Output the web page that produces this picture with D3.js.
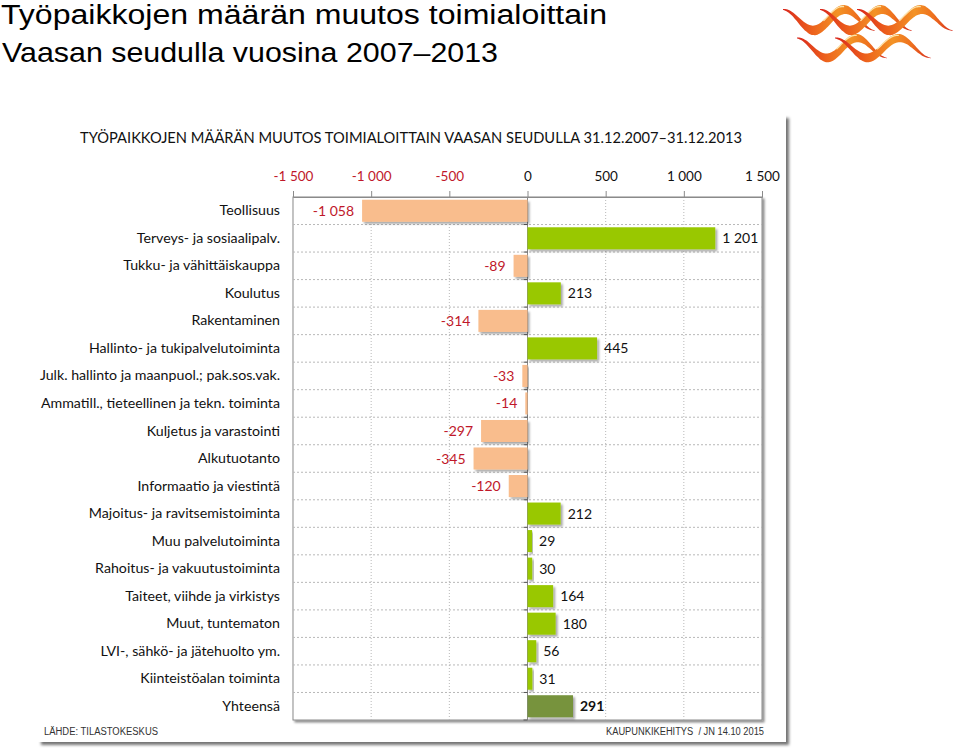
<!DOCTYPE html>
<html><head><meta charset="utf-8">
<script src="https://cdn.jsdelivr.net/npm/d3@7"></script>
<style>
html,body{margin:0;padding:0;background:#fff;}
svg{display:block;}
</style></head>
<body>
<svg id="chart" width="960" height="752"></svg>
<script>
// ---- data ----
const mainTitle = ["Työpaikkojen määrän muutos toimialoittain", "Vaasan seudulla vuosina 2007–2013"];
const innerTitle = "TYÖPAIKKOJEN MÄÄRÄN MUUTOS TOIMIALOITTAIN VAASAN SEUDULLA 31.12.2007–31.12.2013";
const categories = [
  "Teollisuus",
  "Terveys- ja sosiaalipalv.",
  "Tukku- ja vähittäiskauppa",
  "Koulutus",
  "Rakentaminen",
  "Hallinto- ja tukipalvelutoiminta",
  "Julk. hallinto ja maanpuol.; pak.sos.vak.",
  "Ammatill., tieteellinen ja tekn. toiminta",
  "Kuljetus ja varastointi",
  "Alkutuotanto",
  "Informaatio ja viestintä",
  "Majoitus- ja ravitsemistoiminta",
  "Muu palvelutoiminta",
  "Rahoitus- ja vakuutustoiminta",
  "Taiteet, viihde ja virkistys",
  "Muut, tuntematon",
  "LVI-, sähkö- ja jätehuolto ym.",
  "Kiinteistöalan toiminta",
  "Yhteensä"
];
const values = [-1058, 1201, -89, 213, -314, 445, -33, -14, -297, -345, -120, 212, 29, 30, 164, 180, 56, 31, 291];
const totalCategory = "Yhteensä";
const tickValues = [-1500, -1000, -500, 0, 500, 1000, 1500];
const tickLabels = ["-1 500", "-1 000", "-500", "0", "500", "1 000", "1 500"];
const sourceText = "LÄHDE: TILASTOKESKUS";
const creditText = "KAUPUNKIKEHITYS  / JN 14.10 2015";

// ---- styles ----
const C = {
  neg: "#F9BD8D", pos: "#99C800", total: "#77933C",
  negText: "#C0182A", text: "#111", grid: "#b8b8b8", frame: "#8a8a8a"
};
const chartFont = "Lato, 'Open Sans', sans-serif";

const svg = d3.select("#chart");
const defs = svg.append("defs");

function shadow(id, dx, dy, sd, op) {
  const f = defs.append("filter").attr("id", id).attr("x", "-20%").attr("y", "-20%").attr("width", "140%").attr("height", "160%");
  f.append("feDropShadow").attr("dx", dx).attr("dy", dy).attr("stdDeviation", sd)
    .attr("flood-color", "#000").attr("flood-opacity", op);
}
shadow("panelShadow", 3, 3, 1.5, 0.55);
shadow("frameShadow", 2, 2, 1.2, 0.45);
shadow("barShadow", 2, 2, 1.2, 0.35);

// ---- main title ----
svg.append("text").attr("x", 1).attr("y", 24).attr("textLength", 606).attr("lengthAdjust", "spacingAndGlyphs")
  .style("font-family", "'Liberation Sans', Arial, sans-serif").style("font-size", "27px").attr("fill", "#000")
  .text(mainTitle[0]);
svg.append("text").attr("x", 2).attr("y", 62).attr("textLength", 496).attr("lengthAdjust", "spacingAndGlyphs")
  .style("font-family", "'Liberation Sans', Arial, sans-serif").style("font-size", "28px").attr("fill", "#000")
  .text(mainTitle[1]);

// ---- logo (decorative waves) ----
const logoG = svg.append("g").attr("class", "logo");
const grad = defs.append("linearGradient").attr("id", "waveGrad").attr("x1", "0%").attr("x2", "100%");
[["0%", "#D9261C"], ["30%", "#EC5E1C"], ["60%", "#F39326"], ["80%", "#EE701E"], ["100%", "#D52A1D"]]
  .forEach(([o, c]) => grad.append("stop").attr("offset", o).attr("stop-color", c));
function wave(xs, yc, W, A, maxW) {
  const n = 40, top = [], bot = [], hi = [];
  for (let i = 0; i <= n; i++) {
    const t = i / n;
    const x = xs + t * W;
    const y = yc - A * Math.cos(2 * Math.PI * 1.5 * t);
    const w = maxW * Math.pow(Math.sin(Math.PI * Math.min(1, t * 1.03)), 1.0) + 0.8;
    top.push([x, y - w / 2]); bot.push([x, y + w / 2]);
    if (t > 0.44 && t < 0.68) hi.push([x - 1, y - w / 2 + 1.5]);
  }
  const line = d3.line().curve(d3.curveBasis);
  logoG.append("path").attr("d", line(top.concat(bot.reverse())) + "Z").attr("fill", "url(#waveGrad)");
  logoG.append("path").attr("d", line(hi)).attr("fill", "none").attr("stroke", "#FDE7B0").attr("stroke-width", 1.3).attr("opacity", 0.95);
}
[[783, 20, 92, 10.5, 10], [820, 20, 92, 10.5, 10], [857, 20, 96, 10.5, 10]].forEach(p => wave(...p));
[[797, 48, 90, 10, 9], [835, 48, 96, 10, 9]].forEach(p => wave(...p));

// ---- panel ----
svg.append("rect").attr("x", 38).attr("y", 115).attr("width", 748).attr("height", 627)
  .attr("fill", "#fff").attr("filter", "url(#panelShadow)");

svg.append("text").attr("x", 411).attr("y", 143).attr("text-anchor", "middle")
  .attr("textLength", 662).attr("lengthAdjust", "spacingAndGlyphs")
  .style("font-family", chartFont).style("font-size", "15px").attr("fill", C.text)
  .text(innerTitle);

// ---- scales ----
const plot = { left: 293, right: 762, top: 197, bottom: 720 };
const x = d3.scaleLinear().domain([-1500, 1500]).range([plot.left, plot.right]);
const y = d3.scaleBand().domain(categories).range([plot.top, plot.bottom]).paddingInner(0.2).paddingOuter(0.1);
const step = y.step(), gap = step - y.bandwidth();

// frame with shadow
svg.append("rect").attr("x", plot.left).attr("y", plot.top).attr("width", plot.right - plot.left)
  .attr("height", plot.bottom - plot.top).attr("fill", "#fff").attr("stroke", C.frame).attr("stroke-width", 1)
  .attr("filter", "url(#frameShadow)");

// horizontal dashed grid at row boundaries
const bounds = categories.slice(0, -1).map(c => y(c) + y.bandwidth() + gap / 2);
svg.append("g").selectAll("line").data(bounds).join("line")
  .attr("x1", plot.left).attr("x2", plot.right).attr("y1", d => d).attr("y2", d => d)
  .attr("stroke", C.grid).attr("stroke-dasharray", "2,2").attr("stroke-width", 1);
// vertical dotted grid
svg.append("g").selectAll("line").data(tickValues.filter(v => v !== 0 && Math.abs(v) !== 1500)).join("line")
  .attr("x1", d => x(d)).attr("x2", d => x(d)).attr("y1", plot.top).attr("y2", plot.bottom)
  .attr("stroke", C.grid).attr("stroke-dasharray", "1,2").attr("stroke-width", 1);

// top axis
const xAxis = svg.append("g").attr("transform", `translate(0,${plot.top})`)
  .call(d3.axisTop(x).tickValues(tickValues).tickFormat((d, i) => tickLabels[i]).tickSize(6).tickPadding(10));
xAxis.select(".domain").attr("stroke", C.frame);
xAxis.selectAll(".tick line").attr("stroke", C.frame);
xAxis.selectAll(".tick text").style("font-family", chartFont).style("font-size", "13.5px")
  .attr("fill", d => d < 0 ? C.negText : C.text);

// zero axis with small ticks
svg.append("line").attr("x1", x(0)).attr("x2", x(0)).attr("y1", plot.top).attr("y2", plot.bottom)
  .attr("stroke", C.frame);
svg.append("g").selectAll("line").data(bounds.concat([plot.bottom])).join("line")
  .attr("x1", x(0) - 4).attr("x2", x(0)).attr("y1", d => d).attr("y2", d => d).attr("stroke", "#555");

// category axis labels
const yAxis = svg.append("g").attr("transform", `translate(${plot.left},0)`)
  .call(d3.axisLeft(y).tickSize(0).tickPadding(13));
yAxis.select(".domain").remove();
yAxis.selectAll(".tick text").style("font-family", chartFont).style("font-size", "14.2px").attr("fill", C.text);

// bars
const data = categories.map((c, i) => ({ c, v: values[i] }));
svg.append("g").selectAll("rect").data(data).join("rect")
  .attr("x", d => x(Math.min(0, d.v))).attr("width", d => Math.abs(x(d.v) - x(0)))
  .attr("y", d => y(d.c)).attr("height", y.bandwidth())
  .attr("fill", d => d.c === totalCategory ? C.total : (d.v < 0 ? C.neg : C.pos))
  .attr("filter", "url(#barShadow)");

// value labels
const fmt = d3.formatLocale({ decimal: ",", thousands: "\u00a0", grouping: [3], currency: ["", "€"], minus: "-" }).format(",d");
svg.append("g").selectAll("text").data(data).join("text")
  .attr("x", d => d.v < 0 ? x(d.v) - 8 : x(d.v) + 7)
  .attr("y", d => y(d.c) + y.bandwidth() / 2).attr("dy", "0.36em")
  .attr("text-anchor", d => d.v < 0 ? "end" : "start")
  .style("font-family", chartFont).style("font-size", "14px")
  .style("font-weight", d => d.c === totalCategory ? "bold" : "normal")
  .attr("fill", d => d.v < 0 ? C.negText : C.text)
  .text(d => fmt(d.v));

// footer
svg.append("text").attr("x", 44).attr("y", 735).attr("textLength", 114).attr("lengthAdjust", "spacingAndGlyphs")
  .style("font-family", "'Liberation Sans', Arial, sans-serif").style("font-size", "10px").attr("fill", "#333")
  .text(sourceText);
svg.append("text").attr("x", 606).attr("y", 735).attr("textLength", 158).attr("lengthAdjust", "spacingAndGlyphs")
  .style("font-family", "'Liberation Sans', Arial, sans-serif").style("font-size", "10px").attr("fill", "#333")
  .style("white-space", "pre").attr("xml:space", "preserve")
  .text(creditText);
</script>
</body></html>
